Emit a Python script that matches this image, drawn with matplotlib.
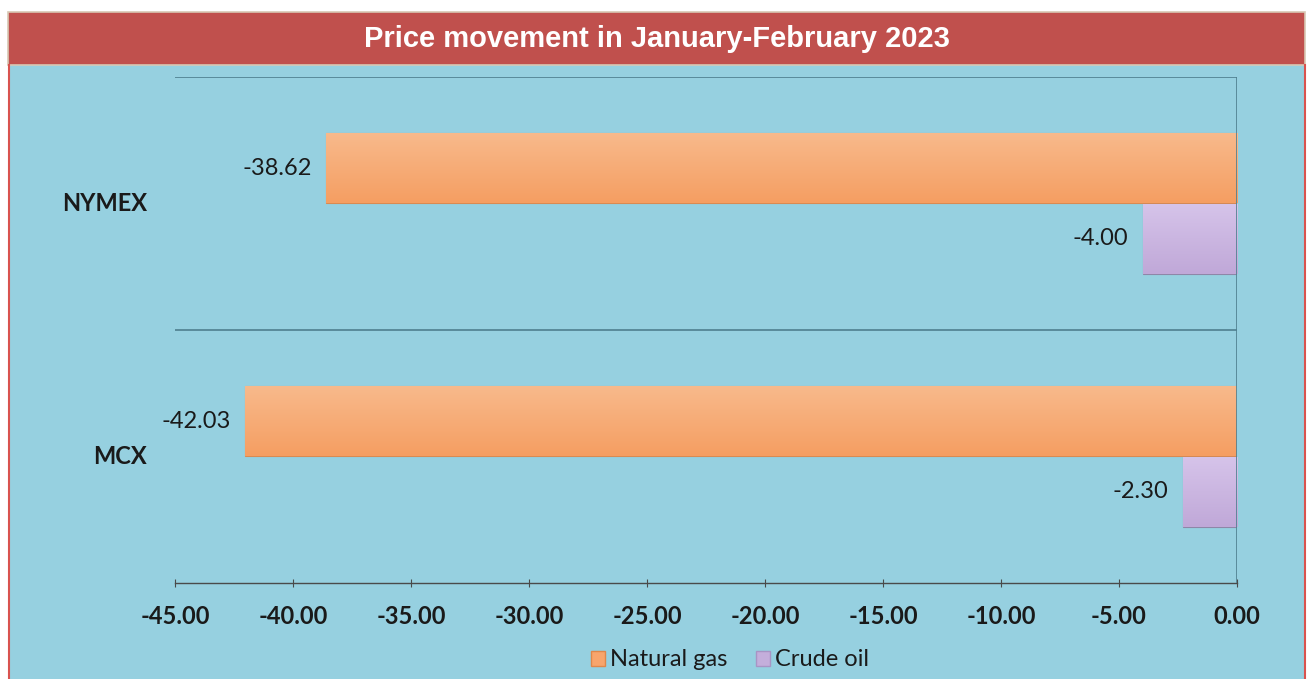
import matplotlib
matplotlib.use("Agg")
import matplotlib.pyplot as plt
from matplotlib.patches import Rectangle, Patch
import numpy as np

categories = ["NYMEX", "MCX"]
series_names = ["Natural gas", "Crude oil"]
natural_gas = [-38.62, -42.03]
crude_oil = [-4.00, -2.30]
x_ticks = [-45, -40, -35, -30, -25, -20, -15, -10, -5, 0]
title = "Price movement in January-February 2023"

W, H = 1310, 679
fig = plt.figure(figsize=(W / 100, H / 100), dpi=100)
fig.patch.set_facecolor("white")

def fx(px):
    return px / W

def fy(py):
    return 1 - py / H

bg = "#96D0E0"
fig.add_artist(Rectangle((fx(8), 0), fx(1305) - fx(8), fy(65), transform=fig.transFigure,
                         facecolor=bg, edgecolor="none", zorder=0))
fig.add_artist(plt.Line2D([fx(8.5), fx(8.5)], [0, fy(65)], transform=fig.transFigure, color="#D9534F", lw=1.5))
fig.add_artist(plt.Line2D([fx(1304.5), fx(1304.5)], [0, fy(65)], transform=fig.transFigure, color="#D9534F", lw=1.5))
fig.add_artist(Rectangle((fx(8), fy(65)), fx(1305) - fx(8), fy(12) - fy(65), transform=fig.transFigure,
                         facecolor="#C0504D", edgecolor="#D8C8B4", lw=1.2, zorder=1))
fig.text(fx(657), fy(39), title, ha="center", va="center", color="white",
         fontsize=21, fontweight="bold", family="Liberation Sans")

ax = fig.add_axes([fx(175), fy(583), fx(1237) - fx(175), fy(77) - fy(583)])
ax.set_facecolor("none")

ypos = np.array([1.5, 0.5])
h = 0.277
off = 0.139
gas_color = "#F8A56C"
oil_color = "#C4AEDB"

def grad_bar(ax, y, w, color_top, color_bot, edge):
    bars = ax.barh([y], [w], height=h, color=color_bot, edgecolor=edge, lw=0.8, zorder=3)
    b = bars[0]
    grad = np.linspace(0, 1, 100).reshape(-1, 1)
    ct = np.array(matplotlib.colors.to_rgb(color_top))
    cb = np.array(matplotlib.colors.to_rgb(color_bot))
    img = ct[None, None, :] * (1 - grad[:, :, None]) + cb[None, None, :] * grad[:, :, None]
    im = ax.imshow(img, extent=[w, 0, y - h / 2, y + h / 2], aspect="auto", zorder=3.5,
                   origin="upper")
    im.set_clip_path(b)
    return b

for i, y in enumerate(ypos):
    grad_bar(ax, y + off, natural_gas[i], "#F8BA8C", "#F59E62", "#D98A52")
    grad_bar(ax, y - off, crude_oil[i], "#D6C4EA", "#C0A8D8", "#8E86A8")

ax.set_xlim(-45, 0)
ax.set_ylim(0, 2)

lab_font = dict(fontsize=17, family="Lato", color="#1A1A1A")
for i, y in enumerate(ypos):
    ax.text(natural_gas[i] - 0.6, y + off, f"{natural_gas[i]:.2f}", ha="right", va="center", **lab_font)
    ax.text(crude_oil[i] - 0.6, y - off, f"{crude_oil[i]:.2f}", ha="right", va="center", **lab_font)

line_c = "#4F7F8F"
ax.axhline(2, color=line_c, lw=1.2, zorder=2)
ax.axhline(1, color=line_c, lw=1.2, zorder=2)
ax.axvline(0, color=line_c, lw=1.2, zorder=4)

for s in ["top", "left", "right"]:
    ax.spines[s].set_visible(False)
ax.spines["bottom"].set_color("#4A4A4A")
ax.spines["bottom"].set_linewidth(1)

ax.set_xticks(x_ticks)
ax.set_xticklabels([f"{v:.2f}" for v in x_ticks])
ax.tick_params(axis="x", direction="inout", length=6, color="#4A4A4A", pad=13,
               labelsize=17)
for t in ax.get_xticklabels():
    t.set_fontweight("bold")
    t.set_family("Lato")
    t.set_color("#1A1A1A")

ax.set_yticks([])
for i, y in enumerate(ypos):
    ax.annotate(categories[i], xy=(0, y), xycoords=("axes fraction", "data"),
                xytext=(-20, 0), textcoords="offset points", ha="right", va="center",
                fontsize=17, fontweight="bold", family="Lato", color="#1A1A1A")

handles = [Patch(facecolor=gas_color, edgecolor="#E0874A"), Patch(facecolor=oil_color, edgecolor="#A894C4")]
leg = fig.legend(handles, series_names, loc="center", bbox_to_anchor=(fx(730), fy(660)), ncol=2,
                 frameon=False, handlelength=0.6, handleheight=0.6, handletextpad=0.2,
                 columnspacing=1.2, prop=dict(family="Lato", size=17))
for t in leg.get_texts():
    t.set_color("#1A1A1A")

fig.savefig("out.png", dpi=100, facecolor="white")
